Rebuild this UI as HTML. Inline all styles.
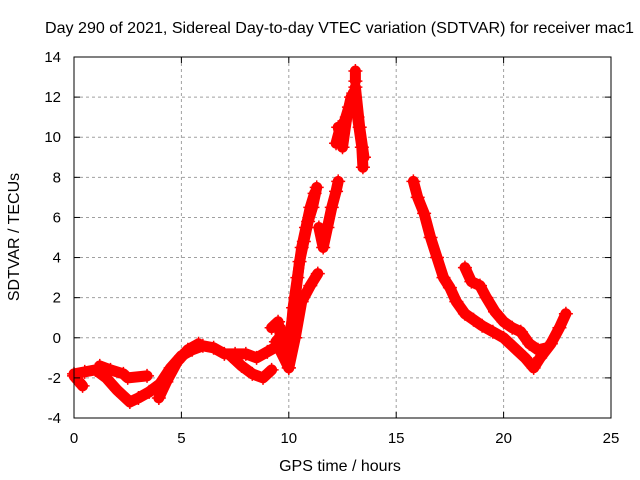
<!DOCTYPE html>
<html><head><meta charset="utf-8"><style>
body{margin:0;background:#fff}
svg{display:block;font-family:"Liberation Sans",sans-serif}
</style></head><body>
<svg id="chart" width="640" height="480">
<text x="45" y="33" font-size="16" textLength="589" lengthAdjust="spacingAndGlyphs">Day 290 of 2021, Sidereal Day-to-day VTEC variation (SDTVAR) for receiver mac1</text>
<text x="340" y="471" font-size="16" text-anchor="middle">GPS time / hours</text>
<text x="19" y="237" font-size="16" text-anchor="middle" transform="rotate(-90 19 237)">SDTVAR / TECUs</text>
<g id="grid"></g><g id="marks"></g>
<rect x="74" y="57" width="537" height="361" fill="none" stroke="#000"/>
<g id="ticks"></g>
</svg>
<script>
const xTicks=[0,5,10,15,20,25];
const yTicks=[-4,-2,0,2,4,6,8,10,12,14];
const trackMorningMain=[[0,-1.8],[0.5,-1.7],[1,-1.6],[1.5,-2.0],[2,-2.6],[2.6,-3.2],[3,-3.0],[3.5,-2.7],[4,-2.3],[4.5,-1.5],[5,-0.9],[5.5,-0.6],[6,-0.4],[6.5,-0.5],[7,-0.8],[7.5,-0.8],[8,-0.8],[8.5,-1.0],[9,-0.7],[9.5,-0.4],[10,-0.9]];
const trackMorningUpper=[[1.2,-1.4],[1.7,-1.6],[2.3,-1.8],[2.5,-2.0],[3.4,-1.9]];
const trackMorningDip=[[0,-1.9],[0.4,-2.4]];
const trackSecondRise=[[3.95,-3.0],[4.3,-2.2],[4.8,-1.2],[5.3,-0.6],[5.8,-0.3]];
const trackEveningLower=[[7.3,-0.9],[7.8,-1.4],[8.3,-1.8],[8.8,-2.0],[9.2,-1.6]];
const trackScatter=[[9.2,0.5],[9.5,0.8],[9.7,-0.5],[10,-1.5],[9.4,-0.2],[9.8,0.3]];
const trackRiseMain=[[10.0,-1.0],[10.2,1.5],[10.4,3],[10.6,4.5],[10.8,5.5],[11.0,6.5],[11.2,7.2]];
const trackRiseMid=[[10.1,0.5],[10.3,2],[10.5,3.8],[10.7,4.8],[10.9,5.8],[11.1,6.5],[11.3,7.5]];
const trackRiseLow=[[10.0,-1.5],[10.3,0],[10.6,1.8],[11.0,2.6],[11.35,3.2]];
const trackRiseRight=[[11.4,5.5],[11.6,4.5],[11.8,5.5],[12.0,6.5],[12.2,7.3],[12.3,7.8]];
const trackPeak=[[12.3,10.5],[12.5,9.5],[12.7,11],[12.9,12],[13.0,11.5],[13.1,12.5],[13.3,10.5],[13.5,9]];
const trackPeak2=[[12.2,9.7],[12.4,10.5],[12.6,10.8],[12.8,11.5],[13.0,12.2],[13.2,11],[13.4,9.5],[13.45,8.5]];
const trackPeakTop=[[13.1,13.3],[13.1,12.8]];
const trackAfternoonMain=[[15.8,7.8],[16.0,7.0],[16.3,6.2],[16.6,5.0],[16.9,4.0],[17.2,3.0],[17.5,2.5],[17.8,1.8],[18.2,1.2],[18.6,0.9],[19.0,0.6],[19.5,0.3],[20.0,0],[20.5,-0.5],[21.0,-1.0],[21.4,-1.5],[21.7,-1.0],[22.2,-0.3],[22.6,0.5],[22.9,1.2]];
const trackAfternoonUpper=[[18.2,3.5],[18.5,2.8],[18.9,2.6],[19.2,2.0],[19.6,1.3],[20.0,0.8],[20.4,0.5],[20.8,0.3],[21.2,-0.3],[21.6,-0.6],[22.0,-0.5]];
const tracks=[trackMorningMain,trackMorningUpper,trackMorningDip,trackSecondRise,trackEveningLower,trackScatter,trackRiseMain,trackRiseMid,trackRiseLow,trackRiseRight,trackPeak,trackPeak2,trackPeakTop,trackAfternoonMain,trackAfternoonUpper];
const NS='http://www.w3.org/2000/svg';
const X=h=>74+h*(537/25);
const Y=v=>418-(v+4)*(361/18);
const grid=document.getElementById('grid'),ticks=document.getElementById('ticks'),marks=document.getElementById('marks');
function mk(tag,attrs,parent){const e=document.createElementNS(NS,tag);for(const k in attrs)e.setAttribute(k,attrs[k]);parent.appendChild(e);return e;}
xTicks.forEach(t=>{
 const x=X(t);
 if(t>0&&t<25){const g=mk('line',{x1:x,x2:x,y1:57,y2:418,stroke:'#a0a0a0','stroke-dasharray':'3,3'},grid);
 
 }
 mk('line',{x1:x,x2:x,y1:418,y2:412,stroke:'#000'},ticks);
 mk('line',{x1:x,x2:x,y1:57,y2:63,stroke:'#000'},ticks);
 const l=mk('text',{x:x,y:443,'font-size':15,'text-anchor':'middle'},ticks);l.textContent=t;
 
 
});
yTicks.forEach(t=>{
 const y=Y(t);
 if(t>-4&&t<14){const g=mk('line',{x1:74,x2:611,y1:y,y2:y,stroke:'#a0a0a0','stroke-dasharray':'3,3'},grid);
 
 }
 mk('line',{x1:74,x2:80,y1:y,y2:y,stroke:'#000'},ticks);
 mk('line',{x1:611,x2:605,y1:y,y2:y,stroke:'#000'},ticks);
 const l=mk('text',{x:61,y:y+5,'font-size':15,'text-anchor':'end'},ticks);l.textContent=t;
 
 
});
tracks.forEach(tr=>{
 const pl=mk('polyline',{points:tr.map(p=>X(p[0])+','+Y(p[1])).join(' '),fill:'none',stroke:'#ff0000','stroke-width':11,'stroke-linejoin':'round','stroke-linecap':'round'},marks);
 
 
 tr.forEach(p=>{
  const x=X(p[0]),y=Y(p[1]);
  const m=mk('path',{d:`M${x-7},${y}H${x+7}M${x},${y-7}V${y+7}`,stroke:'#ff0000','stroke-width':1.5},marks);
  
  
 });
});
</script>
</body></html>
